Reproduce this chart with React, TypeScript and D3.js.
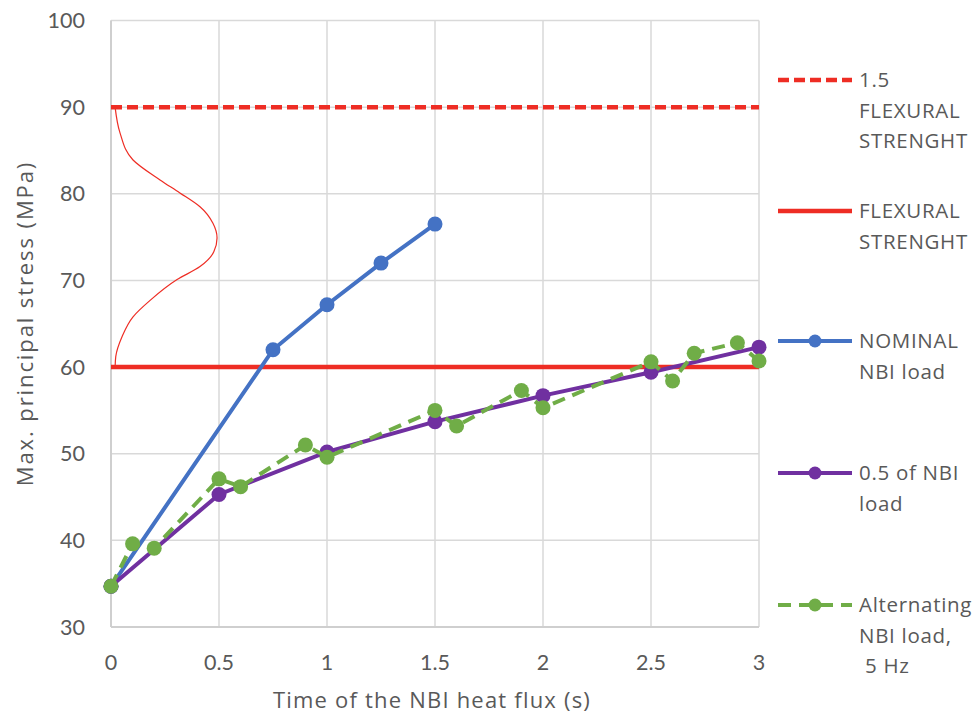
import React from "react";
import * as d3 from "d3";

const xTicks = [0, 0.5, 1, 1.5, 2, 2.5, 3];
const xTickLabels = ["0", "0.5", "1", "1.5", "2", "2.5", "3"];
const yTicks = [30, 40, 50, 60, 70, 80, 90, 100];

const flexural = 60;
const flexural15 = 90;

const nominalX = [0, 0.75, 1, 1.25, 1.5];
const nominalY = [34.7, 62.0, 67.2, 72.0, 76.5];

const halfX = [0, 0.5, 1, 1.5, 2, 2.5, 3];
const halfY = [34.7, 45.3, 50.2, 53.7, 56.7, 59.4, 62.3];

const altX = [0, 0.1, 0.2, 0.5, 0.6, 0.9, 1.0, 1.5, 1.6, 1.9, 2.0, 2.5, 2.6, 2.7, 2.9, 3.0];
const altY = [34.7, 39.6, 39.1, 47.1, 46.2, 51.0, 49.6, 55.0, 53.2, 57.3, 55.3, 60.6, 58.4, 61.6, 62.8, 60.7];

// distribution curve (x in s-units, y in MPa)
const distX = [0.019, 0.042, 0.102, 0.227, 0.319, 0.412, 0.472, 0.491, 0.476, 0.412, 0.306, 0.181, 0.102, 0.051, 0.022, 0.019];
const distY = [90.0, 87.0, 83.9, 81.6, 80.1, 78.5, 76.6, 74.9, 73.3, 71.6, 70.1, 67.7, 65.8, 63.5, 61.2, 60.0];

const legendLabels = [
  ["1.5", "FLEXURAL", "STRENGHT"],
  ["FLEXURAL", "STRENGHT"],
  ["NOMINAL", "NBI load"],
  ["0.5 of NBI", "load"],
  ["Alternating", "NBI load,", " 5 Hz"],
];

const RED = "#ee2d24";
const BLUE = "#4472c4";
const PURPLE = "#7030a0";
const GREEN = "#70ad47";
const GRID = "#d9d9d9";
const TEXT = "#595959";
const FONT = "Lato, 'Open Sans', sans-serif";
const FONT2 = "'Open Sans', Lato, sans-serif";

export default function App() {
  const W = 979, H = 716;
  const x = d3.scaleLinear().domain([0, 3]).range([111, 759]);
  const y = d3.scaleLinear().domain([30, 100]).range([627, 20.5]);

  const line = d3.line<[number, number]>().x(d => x(d[0])).y(d => y(d[1]));
  const distLine = d3
    .line<[number, number]>()
    .x(d => x(d[0]))
    .y(d => y(d[1]))
    .curve(d3.curveMonotoneY);

  const nominal = nominalX.map((v, i) => [v, nominalY[i]] as [number, number]);
  const half = halfX.map((v, i) => [v, halfY[i]] as [number, number]);
  const alt = altX.map((v, i) => [v, altY[i]] as [number, number]);
  const dist = distX.map((v, i) => [v, distY[i]] as [number, number]);

  const legendY = [80, 211, 341, 473, 605];
  const lx0 = 778, lx1 = 852, lxm = 815;

  return (
    <svg
      width={W}
      height={H}
      style={{ position: "absolute", left: 0, top: 0, background: "#fff" }}
      fontFamily={FONT}
    >
      <rect width={W} height={H} fill="#fff" />
      {/* grid */}
      {xTicks.map(t => (
        <line key={"gx" + t} x1={x(t)} x2={x(t)} y1={y(100)} y2={y(30)} stroke={GRID} strokeWidth={1.5} />
      ))}
      {yTicks.map(t => (
        <line key={"gy" + t} x1={x(0)} x2={x(3)} y1={y(t)} y2={y(t)} stroke={GRID} strokeWidth={1.5} />
      ))}
      <line x1={x(0)} x2={x(3)} y1={y(30)} y2={y(30)} stroke="#cfcfcf" strokeWidth={2} />
      <line x1={x(0)} x2={x(0)} y1={y(100)} y2={y(30)} stroke="#cfcfcf" strokeWidth={2} />

      {/* tick labels */}
      {yTicks.map(t => (
        <text key={"ty" + t} x={85} y={y(t)} dy="0.35em" textAnchor="end" fontSize={21.5} fill={TEXT}>
          {t}
        </text>
      ))}
      {xTicks.map((t, i) => (
        <text key={"tx" + t} x={x(t)} y={662} dy="0.35em" textAnchor="middle" fontSize={21.5} fill={TEXT}>
          {xTickLabels[i]}
        </text>
      ))}
      <text x={432} y={708} textAnchor="middle" fontSize={22} fill={TEXT} fontFamily={FONT2} letterSpacing={1.2}>
        Time of the NBI heat flux (s)
      </text>
      <text
        transform={`translate(33,${323.5}) rotate(-90)`}
        textAnchor="middle"
        fontSize={22}
        fill={TEXT}
        fontFamily={FONT2}
        letterSpacing={1.9}
      >
        Max. principal stress (MPa)
      </text>

      {/* distribution curve */}
      <path d={distLine(dist) || ""} fill="none" stroke={RED} strokeWidth={1.2} />

      {/* threshold lines */}
      <line x1={x(0)} x2={x(3)} y1={y(flexural15)} y2={y(flexural15)} stroke={RED} strokeWidth={4.5} strokeDasharray="11 5" />
      <line x1={x(0)} x2={x(3)} y1={y(flexural)} y2={y(flexural)} stroke={RED} strokeWidth={4.5} />

      {/* nominal */}
      <path d={line(nominal) || ""} fill="none" stroke={BLUE} strokeWidth={4} />
      {nominal.map((d, i) => (
        <circle key={"n" + i} cx={x(d[0])} cy={y(d[1])} r={7.5} fill={BLUE} />
      ))}
      {/* half */}
      <path d={line(half) || ""} fill="none" stroke={PURPLE} strokeWidth={4} />
      {half.map((d, i) => (
        <circle key={"h" + i} cx={x(d[0])} cy={y(d[1])} r={7.5} fill={PURPLE} />
      ))}
      {/* alternating */}
      <path d={line(alt) || ""} fill="none" stroke={GREEN} strokeWidth={4} strokeDasharray="13 8" />
      {alt.map((d, i) => (
        <circle key={"a" + i} cx={x(d[0])} cy={y(d[1])} r={7.5} fill={GREEN} />
      ))}

      {/* legend */}
      <line x1={lx0} x2={lx1} y1={legendY[0]} y2={legendY[0]} stroke={RED} strokeWidth={4.5} strokeDasharray="11 5" />
      <line x1={lx0} x2={lx1} y1={legendY[1]} y2={legendY[1]} stroke={RED} strokeWidth={4.5} />
      <line x1={lx0} x2={lx1} y1={legendY[2]} y2={legendY[2]} stroke={BLUE} strokeWidth={4} />
      <circle cx={lxm} cy={legendY[2]} r={6.5} fill={BLUE} />
      <line x1={lx0} x2={lx1} y1={legendY[3]} y2={legendY[3]} stroke={PURPLE} strokeWidth={4} />
      <circle cx={lxm} cy={legendY[3]} r={6.5} fill={PURPLE} />
      <line x1={lx0} x2={lx1} y1={legendY[4]} y2={legendY[4]} stroke={GREEN} strokeWidth={4} strokeDasharray="13 8" />
      <circle cx={lxm} cy={legendY[4]} r={6.5} fill={GREEN} />
      {legendLabels.map((lines, i) => (
        <text key={"lg" + i} x={859} y={legendY[i]} fontSize={20.5} fill={TEXT} fontFamily={FONT2} letterSpacing={0.7}>
          {lines.map((s, j) => (
            <tspan key={j} x={859} y={legendY[i] + j * 30.5} dy="0.35em" style={{ whiteSpace: "pre" }}>
              {s}
            </tspan>
          ))}
        </text>
      ))}
    </svg>
  );
}
